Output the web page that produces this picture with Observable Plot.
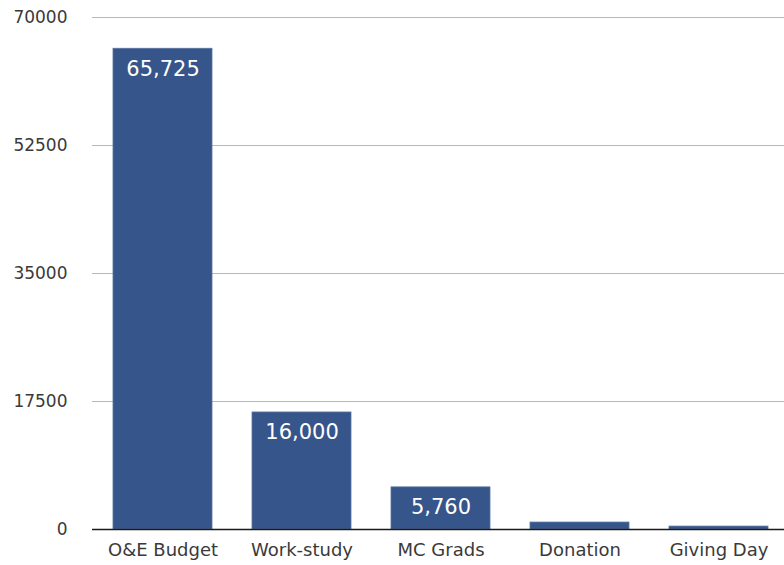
<!DOCTYPE html>
<html>
<head>
<meta charset="utf-8">
<script src="https://cdn.jsdelivr.net/npm/d3@7"></script>
<script src="https://cdn.jsdelivr.net/npm/@observablehq/plot@0.6"></script>
<style>
  html, body { margin: 0; padding: 0; background: #fff; }
  #chart svg { display: block; }
</style>
</head>
<body>
<div id="chart"></div>
<script>
// Funding sources and amounts
const sources = ["O&E Budget", "Work-study", "MC Grads", "Donation", "Giving Day"];
const amounts = [65725, 16000, 5760, 950, 400];
const labelled = [true, true, true, false, false];
const yTicks = [0, 17500, 35000, 52500, 70000];

const data = sources.map((s, i) => ({source: s, amount: amounts[i], show: labelled[i]}));
const fmt = d3.format(",");

const chart = Plot.plot({
  width: 784,
  height: 565,
  marginTop: 17,
  marginBottom: 36,
  marginLeft: 92,
  marginRight: 0,
  style: {fontFamily: "'DejaVu Sans', Verdana, sans-serif", background: "#fff"},
  x: {domain: sources, paddingInner: 0.29, paddingOuter: 0.12, align: 0.55, label: null},
  y: {domain: [0, 70000], label: null},
  marks: [
    Plot.ruleY(yTicks.slice(1), {stroke: "#b8b8b8", strokeWidth: 1}),
    Plot.barY(data, {x: "source", y: "amount", fill: "#36558a", stroke: "#5873a0", strokeWidth: 0.8}),
    Plot.ruleY([0], {stroke: "#1a1a1a", strokeWidth: 1.6}),
    Plot.text(data.filter(d => d.show), {
      x: "source", y: "amount", text: d => fmt(d.amount),
      dy: 20, fill: "#fff", fontSize: 21, lineAnchor: "middle"
    }),
    Plot.axisY({ticks: yTicks, tickSize: 0, tickPadding: 25, tickFormat: d => String(d),
      fontSize: 17, color: "#3a3a3a"}),
    Plot.axisX({tickSize: 0, tickPadding: 14, fontSize: 18, color: "#3a3a3a"})
  ]
});
document.getElementById("chart").appendChild(chart);
</script>
</body>
</html>
